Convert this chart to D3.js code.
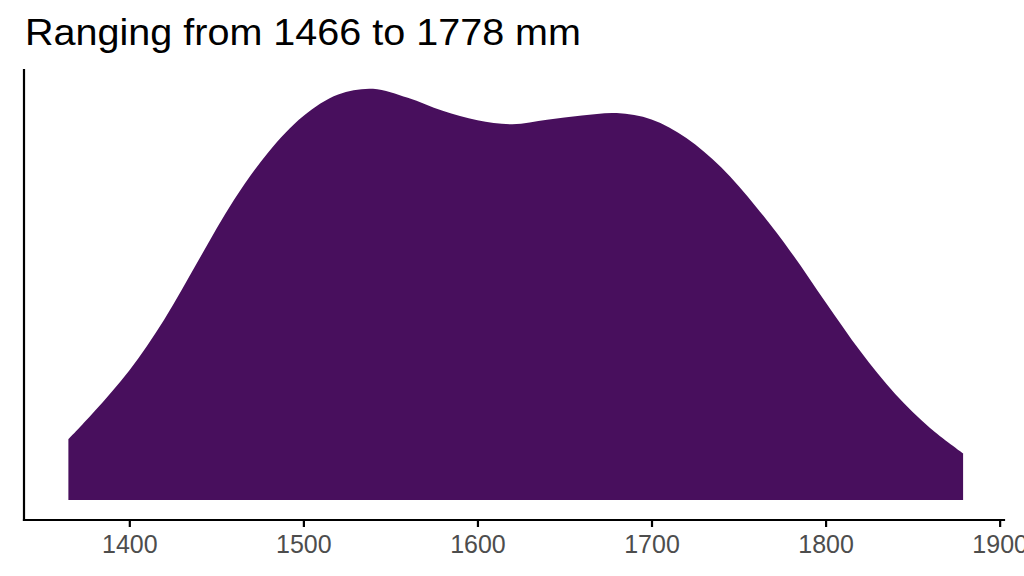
<!DOCTYPE html>
<html>
<head>
<meta charset="utf-8">
<script src="https://cdn.jsdelivr.net/npm/d3@7/dist/d3.min.js"></script>
<style>
  html, body { margin: 0; padding: 0; background: #ffffff; }
  svg { display: block; }
  text { font-family: "Liberation Sans", Arial, Helvetica, sans-serif; }
</style>
</head>
<body>
<svg id="chart" width="1024" height="576"></svg>
<script>
// ---- data ----
const titleText = "Ranging from 1466 to 1778 mm";
// height in mm (x) and kernel density estimate (x 10^-3 per mm)
const heightMM = [1365, 1380, 1400, 1420, 1440, 1460, 1480, 1500, 1520, 1540, 1560, 1580, 1600, 1620, 1640, 1660, 1680, 1700, 1720, 1740, 1760, 1780, 1800, 1820, 1840, 1860, 1879];
const densityVal = [0.392, 0.573, 0.837, 1.165, 1.554, 1.936, 2.249, 2.481, 2.620, 2.657, 2.598, 2.514, 2.453, 2.428, 2.457, 2.484, 2.500, 2.459, 2.339, 2.149, 1.895, 1.603, 1.278, 0.961, 0.685, 0.466, 0.302];
const xTicks = [1400, 1500, 1600, 1700, 1800, 1900];
const xDomain = [1339.5, 1902.5];
const yDomain = [-0.129, 2.778];

// ---- layout ----
const svg = d3.select("#chart");
const panel = { left: 24, right: 1004, top: 70, bottom: 520 };

const x = d3.scaleLinear().domain(xDomain).range([panel.left, panel.right]);
const y = d3.scaleLinear().domain(yDomain).range([panel.bottom, panel.top]);

const pts = heightMM.map((h, i) => ({ x: h, y: densityVal[i] }));

// density area
const area = d3.area()
  .x(d => x(d.x))
  .y0(y(0))
  .y1(d => y(d.y))
  .curve(d3.curveCatmullRom.alpha(0.5));

svg.append("path")
  .datum(pts)
  .attr("d", area)
  .attr("fill", "#480F5D")
  .attr("stroke", "none");

// x axis
const xAxis = d3.axisBottom(x)
  .tickValues(xTicks)
  .tickFormat(d3.format("d"))
  .tickSizeInner(7)
  .tickSizeOuter(0)
  .tickPadding(8);

const gx = svg.append("g")
  .attr("transform", `translate(0,${panel.bottom})`)
  .call(xAxis);
gx.select(".domain").remove();
gx.selectAll(".tick line").attr("stroke", "#000").attr("stroke-width", 2.2);
gx.selectAll(".tick text")
  .attr("fill", "#4D4D4D")
  .attr("font-size", 25)
  .attr("font-family", "'Liberation Sans', Arial, sans-serif");

// axis lines (x and y)
svg.append("line")
  .attr("x1", panel.left).attr("x2", panel.right)
  .attr("y1", panel.bottom).attr("y2", panel.bottom)
  .attr("stroke", "#000").attr("stroke-width", 2.2).attr("stroke-linecap", "square");
svg.append("line")
  .attr("x1", panel.left).attr("x2", panel.left)
  .attr("y1", panel.top).attr("y2", panel.bottom)
  .attr("stroke", "#000").attr("stroke-width", 2.2).attr("stroke-linecap", "square");

// title
svg.append("text")
  .attr("x", 25)
  .attr("y", 44.5)
  .attr("font-size", 37)
  .attr("fill", "#000")
  .attr("textLength", 556)
  .attr("lengthAdjust", "spacingAndGlyphs")
  .text(titleText);
</script>
</body>
</html>
